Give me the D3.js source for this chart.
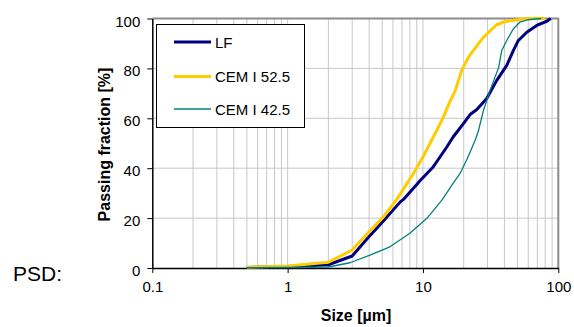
<!DOCTYPE html>
<html lang="en">
<head>
<meta charset="utf-8">
<title>PSD</title>
<script src="https://cdn.jsdelivr.net/npm/d3@7"></script>
<style>
  body { margin: 0; background: #fff; }
  text { font-family: Arial, "Liberation Sans", sans-serif; fill: #000; }
</style>
</head>
<body>
<script>
// series data: size [um] and passing fraction [%]
var lfSize = [0.5, 1, 2, 3, 3.84, 5.1, 6.8, 7.17, 9, 9.5, 11.9, 12.6, 15, 16.7, 19.9, 22.3, 25, 29.6, 35.1, 41.6, 46.6, 50.7, 58.5, 69.3, 82.2, 88];
var lfVal  = [0.2, 0.5, 1.3, 4.8, 11.5, 18.8, 26.5, 27.5, 33.5, 35, 40.5, 42.5, 48.5, 52.5, 57.9, 61.5, 63.5, 67.9, 75.2, 81.2, 87.2, 91.2, 94.5, 97.2, 98.9, 100];

var c52Size = [0.5, 1, 2, 3, 3.84, 5.1, 6.4, 8.5, 10, 12.6, 14, 15.9, 17.3, 19.4, 22, 25, 28, 32, 35, 40, 50, 60, 80];
var c52Val  = [0.3, 0.8, 2.3, 7.2, 13.5, 20.5, 27.5, 37.9, 44.5, 55, 60, 67, 71, 79.5, 85, 89, 92.5, 95.5, 97.5, 98.7, 99.5, 100, 100];

var c42Size = [0.5, 1, 2, 2.89, 4.06, 5.7, 8, 10.7, 13.8, 16.7, 18.8, 21.1, 22.3, 24.3, 25.7, 28, 31.3, 34.1, 36.3, 38.2, 41.6, 46.6, 52, 60, 75];
var c42Val  = [0.1, 0.2, 0.4, 2.1, 5.2, 8.5, 13.9, 19.9, 27.2, 33.9, 37.9, 43.5, 46.5, 51.2, 55, 63.2, 71.2, 76.5, 80.5, 87.2, 91.2, 95.9, 98.5, 99.5, 100];

var seriesNames = ["LF", "CEM I 52.5", "CEM I 42.5"];
var xTicks = [0.1, 1, 10, 100];
var yTicks = [0, 20, 40, 60, 80, 100];

var w = 574, h = 327;
var svg = d3.select("body").append("svg")
  .attr("width", w).attr("height", h);

var x = d3.scaleLog().domain([0.1, 100]).range([152.3, 558.3]);
var y = d3.scaleLinear().domain([0, 100]).range([268, 18.5]);

// minor vertical grid
var minor = [];
xTicks.slice(0, 3).forEach(function(d) {
  for (var k = 2; k <= 9; k++) minor.push(d * k);
});
svg.append("g").selectAll("line")
  .data(minor.concat([1, 10]))
  .enter().append("line")
  .attr("x1", function(d) { return x(d); })
  .attr("x2", function(d) { return x(d); })
  .attr("y1", y(0)).attr("y2", y(100))
  .attr("stroke", "#c8c8c8").attr("stroke-width", 1);

// horizontal grid
svg.append("g").selectAll("line")
  .data([20, 40, 60, 80])
  .enter().append("line")
  .attr("x1", x(0.1)).attr("x2", x(100))
  .attr("y1", function(d) { return y(d); })
  .attr("y2", function(d) { return y(d); })
  .attr("stroke", "#c8c8c8").attr("stroke-width", 1);

// top and right frame
svg.append("path")
  .attr("d", "M" + x(0.1) + "," + y(100) + "H" + x(100) + "V" + y(0))
  .attr("fill", "none").attr("stroke", "#8c8c8c").attr("stroke-width", 2);

// curves
var line = d3.line()
  .x(function(d) { return x(d[0]); })
  .y(function(d) { return y(d[1]); });

function pairs(s, v) { return s.map(function(d, i) { return [d, v[i]]; }); }

var series = [
  { name: seriesNames[0], data: pairs(lfSize, lfVal), color: "#000080", width: 3 },
  { name: seriesNames[1], data: pairs(c52Size, c52Val), color: "#ffcc00", width: 3 },
  { name: seriesNames[2], data: pairs(c42Size, c42Val), color: "#008080", width: 1.3 }
];

// axes
var xAxis = svg.append("g")
  .attr("transform", "translate(0," + y(0) + ")")
  .call(d3.axisBottom(x).tickValues(xTicks).tickSize(5).tickSizeOuter(0)
    .tickFormat(function(d) { return d; }));
xAxis.select(".domain").attr("stroke", "#000").attr("stroke-width", 1.5);
xAxis.selectAll(".tick line").attr("stroke", "#000");
xAxis.selectAll("text").attr("font-size", "15px").attr("dy", "0.35em").attr("y", 19)
  .attr("font-family", "Arial, 'Liberation Sans', sans-serif");

var yAxis = svg.append("g")
  .attr("transform", "translate(" + x(0.1) + ",0)")
  .call(d3.axisLeft(y).tickValues(yTicks).tickSize(5).tickSizeOuter(0));
yAxis.select(".domain").attr("stroke", "#000").attr("stroke-width", 1.5);
yAxis.selectAll(".tick line").attr("stroke", "#000");
yAxis.selectAll("text").attr("font-size", "15px").attr("x", -12).attr("dy", "0.5em")
  .attr("font-family", "Arial, 'Liberation Sans', sans-serif");

svg.append("g").selectAll("path")
  .data(series)
  .enter().append("path")
  .attr("d", function(d) { return line(d.data); })
  .attr("fill", "none")
  .attr("stroke", function(d) { return d.color; })
  .attr("stroke-width", function(d) { return d.width; })
  .attr("stroke-linejoin", "round");

// legend
var lg = svg.append("g");
lg.append("rect")
  .attr("x", 156.5).attr("y", 24.5).attr("width", 148).attr("height", 103)
  .attr("fill", "#fff").attr("stroke", "#000").attr("stroke-width", 1);
var ly = [42, 76.5, 109];
series.forEach(function(s, i) {
  lg.append("line")
    .attr("x1", 174).attr("x2", 211)
    .attr("y1", ly[i]).attr("y2", ly[i])
    .attr("stroke", s.color).attr("stroke-width", s.width);
  lg.append("text")
    .attr("x", 215).attr("y", ly[i] + 5.5)
    .attr("font-size", "15px")
    .text(s.name);
});

// titles
svg.append("text")
  .attr("x", 356).attr("y", 321)
  .attr("text-anchor", "middle")
  .attr("font-size", "16px").attr("font-weight", "bold")
  .text("Size [µm]");

svg.append("text")
  .attr("transform", "translate(110,144.5) rotate(-90)")
  .attr("text-anchor", "middle")
  .attr("font-size", "16px").attr("font-weight", "bold")
  .text("Passing fraction [%]");

svg.append("text")
  .attr("x", 13).attr("y", 281)
  .attr("font-size", "21px")
  .text("PSD:");
</script>
</body>
</html>
